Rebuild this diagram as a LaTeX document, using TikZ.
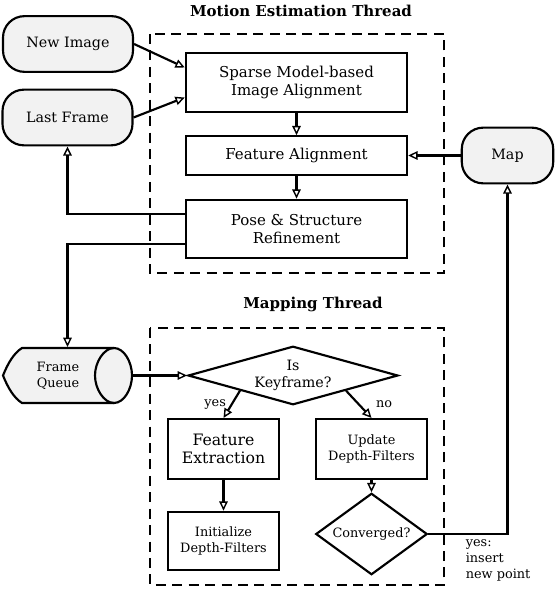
\documentclass[tikz,border=0pt]{standalone}
\usepackage{fontspec}
\setmainfont{DejaVu Serif}
\usetikzlibrary{shapes.geometric,arrows.meta}

\begin{document}
\begin{tikzpicture}[x=0.7pt,y=-0.7pt,line width=1.5pt,
  term/.style={draw,fill=black!5,rounded corners=15pt,minimum width=91pt,minimum height=39pt},
  proc/.style={draw,align=center,minimum width=155pt,inner sep=0pt,font=\fontsize{10.5}{13}\selectfont},
  sub/.style={draw,align=center,minimum width=78pt,minimum height=42pt,inner sep=0pt,font=\small},
  dec/.style={draw,diamond,align=center,inner sep=0pt},
  thread/.style={dash pattern=on 7pt off 4.5pt},
  arr/.style={-{Triangle[open,length=6.5pt,width=6pt,line width=1pt]}},
  title/.style={font=\fontsize{10.5}{13}\selectfont\bfseries}]
\useasboundingbox (0,0) rectangle (557,595);
\node[title] (t1) at (301,11) {Motion Estimation Thread};
\draw[thread] (150,34) rectangle (444,273);
\node[term] (new) at (68,44) {New Image};
\node[term] (last) at (67.5,117.5) {Last Frame};
\node[proc,minimum height=41pt] (sparse) at (296.5,82.5) {Sparse Model-based\\Image Alignment};
\node[proc,minimum height=27pt] (fa) at (296.5,155.5) {Feature Alignment};
\node[proc,minimum height=41pt] (pose) at (296.5,229) {Pose \& Structure\\Refinement};
\node[term,minimum width=64pt] (map) at (507.5,155.5) {Map};
\draw[fill=black!5] (3,375.5) .. controls (8,363) and (14,353) .. (22,348) -- (114,348)
  .. controls (124,348) and (132,362) .. (132,375.5) .. controls (132,389) and (124,403) .. (114,403)
  -- (22,403) .. controls (14,398) and (8,388) .. (3,375.5) -- cycle;
\draw (114,348) .. controls (104,348) and (95,362) .. (95,375.5) .. controls (95,389) and (104,403) .. (114,403);
\node[minimum width=90pt,minimum height=38.5pt,inner sep=0pt] (fq) at (67.5,375.5) {};
\node[align=center,font=\small] (fqt) at (58,375.5) {Frame\\Queue};
\node[title] (t2) at (313,304) {Mapping Thread};
\draw[thread] (150,328) rectangle (444,585);
\node[dec,aspect=3.6,minimum width=147pt,minimum height=41pt] (kf) at (293,375.5) {Is\\Keyframe?};
\node[sub,font=\fontsize{11}{13}\selectfont] (fe) at (223.5,449) {Feature\\Extraction};
\node[sub,minimum height=41pt] (init) at (223.5,541) {Initialize\\Depth-Filters};
\node[sub] (upd) at (371.5,449) {Update\\Depth-Filters};
\node[dec,aspect=1.4,font=\small,minimum width=78pt,minimum height=57pt] (conv) at (371.5,534) {Converged?};
\draw[arr] (new.east) -- ([yshift=10.5pt]sparse.west);
\draw[arr] (last.east) -- ([yshift=-10.5pt]sparse.west);
\draw[arr] (sparse) -- (fa);
\draw[arr] (fa) -- (pose);
\draw[arr] (map) -- (fa);
\draw[arr] ([yshift=10.5pt]pose.west) -| (last);
\draw[arr] ([yshift=-10.5pt]pose.west) -| (fq);
\draw[arr] (fq.east) -- (kf.west);
\draw[arr] (kf.south west) -- node[left,font=\small] (yes) {yes} (fe.north);
\draw[arr] (kf.south east) -- node[right,xshift=8pt,font=\small] (no) {no} (upd.north);
\draw[arr] (fe) -- (init);
\draw[arr] (upd) -- (conv);
\draw[arr] (conv.east) -| node[pos=0.2,below right,align=left,font=\small] (ins) {yes:\\insert\\new point} (map.south);
\end{tikzpicture}
\end{document}
